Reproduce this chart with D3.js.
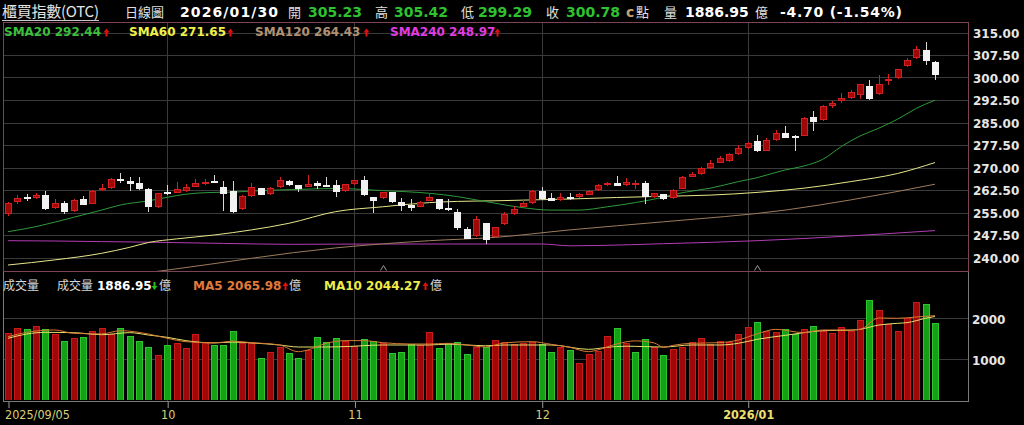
<!DOCTYPE html>
<html><head><meta charset="utf-8">
<script src="https://cdn.jsdelivr.net/npm/d3@7"></script>
<style>
html,body{margin:0;padding:0;background:#000;overflow:hidden}
svg{display:block}
</style></head><body>
<svg id="c" width="1024" height="425"></svg>
<script>
// ---------------- DATA ----------------
const openP = [254.5,258.4,260.05,259.7,260.9,256.6,258.1,255.6,259.4,258.0,
262.5,263.3,266.3,265.4,264.7,262.9,256.7,261.8,261.6,262.3,
263.6,264.5,265.5,263.6,262.2,256.1,260.5,263.1,261.2,263.4,
265.6,264.1,263.6,264.7,264.3,264.2,262.2,264.5,265.8,260.05,
259.7,261.8,258.6,257.4,256.9,258.9,259.4,256.4,255.3,249.4,
247.2,251.4,246.7,251.2,254.5,256.7,258.1,262.1,259.7,259.2,
260.3,260.05,261.0,262.5,264.3,264.9,264.1,264.7,264.9,260.3,
261.1,259.7,262.9,266.9,267.8,269.8,271.6,272.3,274.5,276.5,
278.8,275.6,279.2,281.6,280.6,280.6,286.7,285.8,290.5,292.0,
293.1,294.2,297.2,294.4,298.9,299.7,303.8,306.4,309.2,305.23];
const highP = [258.5,260.8,261.1,261.4,262.2,259.4,259.0,259.5,260.6,262.6,
264.4,266.4,268.1,266.7,266.7,263.1,261.6,264.1,265.3,264.5,
266.1,266.1,267.5,265.6,265.6,260.7,264.7,263.3,263.6,266.7,
266.0,264.3,267.5,265.6,266.9,265.8,264.6,266.0,267.3,260.3,
262.0,262.0,260.0,259.4,258.8,261.1,259.6,259.4,256.2,250.3,
253.8,251.6,250.3,255.3,257.2,259.2,262.5,263.4,261.4,261.6,
261.6,261.6,262.6,264.5,265.3,267.2,266.4,265.8,265.6,261.6,
261.3,263.0,267.1,268.6,270.3,272.5,273.8,275.0,277.5,278.4,
280.8,279.8,282.5,283.9,280.8,286.9,289.0,290.8,292.2,294.9,
295.8,298.0,299.2,300.8,301.2,303.0,306.4,310.5,311.7,305.42];
const lowP = [254.0,258.0,258.8,259.5,256.0,256.3,254.5,255.3,257.4,257.8,
262.3,263.0,265.0,262.3,262.5,255.3,256.5,261.0,261.4,262.0,
263.4,264.3,264.7,255.6,255.0,255.9,260.3,260.8,261.0,263.2,
264.0,261.8,263.4,263.0,263.6,260.3,262.0,264.3,260.6,254.7,
259.5,258.3,255.6,255.5,256.7,258.7,255.9,255.6,249.2,246.1,
247.0,244.5,246.5,251.0,254.3,256.5,257.9,259.2,258.7,259.0,
259.2,259.9,260.8,262.3,264.0,263.7,263.9,263.0,257.8,260.0,
259.2,259.5,262.7,266.7,267.6,269.6,271.4,271.9,274.3,276.3,
275.2,275.4,279.0,279.7,275.5,280.4,282.3,285.6,289.7,291.6,
292.9,292.7,292.6,294.2,297.5,299.5,303.6,306.2,304.2,299.29];
const closeP = [258.1,259.7,259.4,260.9,256.3,258.3,255.3,259.2,257.6,262.3,
263.3,266.1,265.4,264.5,262.7,256.7,261.4,261.2,262.9,263.6,
264.9,265.2,264.9,261.2,255.3,260.5,263.4,261.0,263.1,265.8,
264.3,262.7,264.5,263.8,263.7,262.0,264.4,265.8,260.8,258.9,
261.8,258.6,257.2,256.6,258.6,260.3,256.1,255.8,249.7,246.3,
252.7,245.8,250.1,254.5,256.1,258.3,262.3,259.4,258.9,260.3,
259.7,261.1,262.3,264.2,264.7,263.9,265.3,264.9,260.05,261.4,
259.4,262.5,266.9,267.8,269.9,271.6,273.1,274.4,276.4,278.1,
275.4,279.2,281.4,279.9,279.7,286.6,285.1,290.5,291.4,293.1,
295.3,297.8,292.8,297.8,299.4,302.7,305.8,309.4,305.48,300.78];
const prevClose0 = 254.0;
const volume = [1634,1771,1739,1804,1739,1617,1454,1520,1536,1690,
1771,1617,1771,1576,1454,1300,1113,1357,1406,1284,
1617,1414,1349,1349,1690,1390,1400,1040,1178,1292,
1161,1040,1227,1551,1422,1527,1439,1324,1495,1454,
1406,1161,1178,1373,1349,1674,1268,1390,1414,1129,
1300,1300,1471,1430,1373,1406,1430,1365,1186,1300,
1227,902,1122,1202,1568,1771,1406,1170,1487,1292,
1105,1259,1292,1430,1527,1373,1454,1430,1610,1795,
1902,1690,1674,1731,1610,1731,1812,1698,1649,1795,
1690,1959,2446,2202,1870,1698,2007,2405,2358,1886.95];

// moving averages: [bar index, value]
const sma20 = [[0,248.6],[3,250.3],[7,253.4],[10,255.8],[12,257.5],[15,258.9],[17,260.05],[19,261.1],[22,261.7],[24,261.8],[27,262.3],[31,262.7],[35,263.0],[40,262.3],[45,261.4],[48,260.3],[50,259.2],[52,258.1],[55,256.6],[58,255.8],[61,255.8],[64,256.9],[67,258.3],[70,260.1],[72,261.6],[75,263.1],[78,265.3],[80,266.6],[83,269.2],[85,270.5],[87,272.7],[89,277.0],[91,280.5],[93,283.1],[95,286.1],[97,289.7],[99,292.44]];
const sma60 = [[0,237.5],[5,239.2],[10,241.4],[13,243.4],[15,245.0],[18,246.2],[22,247.5],[26,249.2],[30,251.4],[35,255.3],[40,256.9],[45,258.3],[48,258.7],[52,258.9],[56,259.2],[60,259.5],[65,260.0],[70,260.4],[75,260.8],[80,261.7],[85,263.1],[90,265.3],[95,268.0],[99,271.65]];
const sma120 = [[0,229.0],[17,235.8],[35,243.2],[45,245.6],[52,246.7],[60,249.2],[70,251.9],[83,255.8],[90,259.2],[99,264.43]];
const sma240 = [[0,245.6],[5,245.5],[10,245.3],[15,245.1],[23,244.7],[30,244.4],[40,244.5],[50,244.5],[57,244.5],[60,243.9],[63,244.0],[70,244.6],[80,245.6],[90,247.2],[99,248.97]];
const volMa5 = [[0,1551],[2,1658],[5,1715],[7,1633],[10,1620],[12,1698],[15,1617],[17,1512],[19,1430],[22,1400],[24,1440],[26,1406],[29,1349],[31,1186],[32,1227],[34,1390],[36,1455],[38,1455],[40,1406],[43,1373],[45,1373],[47,1390],[49,1349],[51,1300],[53,1400],[56,1430],[58,1365],[60,1292],[62,1186],[63,1230],[65,1373],[67,1450],[69,1400],[70,1292],[71,1340],[73,1390],[76,1406],[78,1471],[80,1620],[82,1731],[85,1650],[87,1715],[90,1715],[91,1731],[93,2007],[95,2000],[97,2031],[99,2065.98]];
const volMa10 = [[0,1512],[2,1617],[4,1658],[7,1650],[10,1600],[13,1650],[15,1592],[17,1536],[19,1455],[22,1400],[24,1420],[26,1400],[29,1349],[31,1300],[34,1300],[36,1310],[40,1349],[43,1349],[45,1349],[47,1370],[49,1349],[51,1330],[53,1349],[58,1349],[62,1243],[64,1292],[66,1320],[68,1310],[70,1300],[73,1349],[76,1349],[78,1390],[80,1487],[83,1584],[85,1650],[87,1698],[90,1710],[91,1731],[93,1836],[95,1877],[96,1894],[98,2000],[99,2044.27]];

const priceTicks = [240,247.5,255,262.5,270,277.5,285,292.5,300,307.5,315];
const volTicks = [1000,2000];
const tickIdx = [0,17,37,57,79];
const tickLabels = ["2025/09/05","10","11","12","2026/01"];
const markerIdx = [40,80];
const lastDate = "2026/01/30";

// ---------------- DRAW ----------------
const svg = d3.select("#c");
const M = {l:3, r:968, t:22, b:271};
const V = {t:271, b:401};
const x = d3.scaleLinear().domain([0, 99]).range([8, 935]);
const y = d3.scaleLinear().domain([240, 315]).range([257.5, 32.5]);
const yv = d3.scaleLinear().domain([0, 2000]).range([400.3, 318.3]);
const NUM = "'DejaVu Sans',Verdana,sans-serif";
const CJK = "'Noto Sans CJK TC','Noto Sans CJK SC',sans-serif";

svg.append("rect").attr("width",1024).attr("height",425).attr("fill","#000");
const defs = svg.append("defs");
defs.append("clipPath").attr("id","cm").append("rect").attr("x",M.l).attr("y",M.t).attr("width",M.r-M.l).attr("height",M.b-M.t);
defs.append("clipPath").attr("id","cv").append("rect").attr("x",M.l).attr("y",V.t).attr("width",M.r-M.l).attr("height",V.b-V.t);

const grid = svg.append("g").attr("stroke","#3a3a3a").attr("stroke-width",1).attr("shape-rendering","crispEdges");
priceTicks.forEach(t=>{
  const yy = Math.round(y(t))+0.5;
  grid.append("line").attr("x1",M.l).attr("x2",M.r).attr("y1",yy).attr("y2",yy);
});
volTicks.forEach(t=>{
  const yy = Math.round(yv(t))+0.5;
  grid.append("line").attr("x1",M.l).attr("x2",M.r).attr("y1",yy).attr("y2",yy);
});
tickIdx.slice(1).forEach(i=>{
  const xx = Math.round(x(i))+0.5;
  grid.append("line").attr("x1",xx).attr("x2",xx).attr("y1",M.t).attr("y2",M.b);
  grid.append("line").attr("x1",xx).attr("x2",xx).attr("y1",V.t).attr("y2",V.b);
});

// moving average lines (main)
const lineP = d3.line().x(d=>x(d[0])).y(d=>y(d[1])).curve(d3.curveMonotoneX);
const gm = svg.append("g").attr("clip-path","url(#cm)");
[[sma240,"#b43cb4"],[sma120,"#9c7c5c"],[sma60,"#e6e68a"],[sma20,"#2f9a3a"]].forEach(([d,c])=>{
  gm.append("path").attr("d",lineP(d)).attr("fill","none").attr("stroke",c).attr("stroke-width",1);
});

// candles
const idx = d3.range(openP.length);
const cg = gm.append("g").attr("shape-rendering","crispEdges");
idx.forEach(i=>{
  const cx = Math.round(x(i));
  const up = closeP[i] >= openP[i];
  const wick = up ? "#d42020" : "#d8d8d8";
  cg.append("rect").attr("x",cx).attr("width",1)
    .attr("y",Math.round(y(highP[i]))).attr("height",Math.max(1,Math.round(y(lowP[i]))-Math.round(y(highP[i]))))
    .attr("fill",wick);
  const yt = Math.round(y(Math.max(openP[i],closeP[i])));
  const yb = Math.round(y(Math.min(openP[i],closeP[i])));
  const h = Math.max(2, yb-yt);
  if(up){
    cg.append("rect").attr("x",cx-3).attr("y",yt).attr("width",7).attr("height",h).attr("fill","#d42020");
    if(h>2) cg.append("rect").attr("x",cx-2).attr("y",yt+1).attr("width",5).attr("height",h-2).attr("fill","#a00808");
  } else {
    cg.append("rect").attr("x",cx-3).attr("y",yt).attr("width",7).attr("height",h).attr("fill","#f2f2f2");
  }
});

// markers
markerIdx.forEach(i=>{
  const cx = Math.round(x(i))+0.5;
  svg.append("path").attr("d",`M${cx-3},270.5 L${cx},265.5 L${cx+3},270.5`).attr("fill","none").attr("stroke","#9a9a9a").attr("stroke-width",1);
});

// volume bars
const vg = svg.append("g").attr("clip-path","url(#cv)").attr("shape-rendering","crispEdges");
idx.forEach(i=>{
  const cx = Math.round(x(i));
  const prev = i ? closeP[i-1] : prevClose0;
  const up = closeP[i] >= prev;
  const yt = Math.round(yv(volume[i]));
  const yb = Math.round(yv(0));
  vg.append("rect").attr("x",cx-3).attr("y",yt).attr("width",7).attr("height",yb-yt).attr("fill",up?"#c81c1c":"#2ec62e");
  vg.append("rect").attr("x",cx-2).attr("y",yt+1).attr("width",5).attr("height",yb-yt-1).attr("fill",up?"#a00808":"#16a016");
});
const lineV = d3.line().x(d=>x(d[0])).y(d=>yv(d[1])).curve(d3.curveMonotoneX);
const vl = svg.append("g").attr("clip-path","url(#cv)");
vl.append("path").attr("d",lineV(volMa10)).attr("fill","none").attr("stroke","#e8df6a").attr("stroke-width",1);
vl.append("path").attr("d",lineV(volMa5)).attr("fill","none").attr("stroke","#d67a34").attr("stroke-width",1);

// frames
svg.append("rect").attr("x",M.l+0.5).attr("y",M.t+0.5).attr("width",M.r-M.l).attr("height",M.b-M.t)
  .attr("fill","none").attr("stroke","#7c4456").attr("shape-rendering","crispEdges");
const fr = svg.append("g").attr("stroke","#7a7a7a").attr("shape-rendering","crispEdges");
fr.append("line").attr("x1",M.l+0.5).attr("x2",M.l+0.5).attr("y1",V.t+1).attr("y2",V.b+0.5);
fr.append("line").attr("x1",M.r+0.5).attr("x2",M.r+0.5).attr("y1",V.t+1).attr("y2",V.b+0.5);
fr.append("line").attr("x1",M.l).attr("x2",M.r+1).attr("y1",V.b+0.5).attr("y2",V.b+0.5);

// axes
const ay = svg.append("g").attr("transform",`translate(${M.r+1},0)`)
  .call(d3.axisRight(y).tickValues(priceTicks).tickFormat(d3.format(".2f")).tickSize(0).tickPadding(4));
ay.select(".domain").remove();
ay.selectAll("text").attr("font-family",NUM).attr("font-weight","bold").attr("font-size",12).attr("fill","#e6e6e6").attr("dy","0.4em");
const av = svg.append("g").attr("transform",`translate(${M.r+1},0)`)
  .call(d3.axisRight(yv).tickValues(volTicks).tickFormat(d3.format("d")).tickSize(0).tickPadding(3));
av.select(".domain").remove();
av.selectAll("text").attr("font-family",NUM).attr("font-weight","bold").attr("font-size",12).attr("fill","#e6e6e6").attr("dy","0.4em");

const ax = svg.append("g").attr("transform",`translate(0.5,${V.b+1})`)
  .call(d3.axisBottom(x).tickValues(tickIdx).tickFormat((d,k)=>tickLabels[k]).tickSize(6).tickPadding(2));
ax.select(".domain").remove();
ax.selectAll("line").attr("stroke","#9a9a9a");
ax.selectAll("text").attr("font-family","'DejaVu Sans Condensed','DejaVu Sans',sans-serif").attr("font-stretch","condensed")
  .attr("font-size",12.5).attr("fill","#d8cf78").attr("dy","0.72em")
  .each(function(d,k){
    if(k===0) d3.select(this).attr("text-anchor","start").attr("x",-4);
    if(k===tickLabels.length-1) d3.select(this).attr("font-weight","bold").attr("fill","#eee070");
  });

// ---------------- TEXT ----------------
function txt(g,s,xx,yy,o){
  const t = g.append("text").attr("x",xx).attr("y",yy).text(s)
    .attr("font-family",o.f||NUM).attr("font-size",o.s||14).attr("font-weight",o.w||"normal").attr("fill",o.c||"#e0e0e0");
  if(o.tl) t.attr("textLength",o.tl).attr("lengthAdjust","spacing");
  return t;
}
function arrow(g,xx,yt,up,c){
  const p = up
    ? `M${xx+2.5},${yt} L${xx+5.5},${yt+4} L${xx+3.5},${yt+4} L${xx+3.5},${yt+8} L${xx+1.5},${yt+8} L${xx+1.5},${yt+4} L${xx-0.5},${yt+4} Z`
    : `M${xx+2.5},${yt+8} L${xx+5.5},${yt+4} L${xx+3.5},${yt+4} L${xx+3.5},${yt} L${xx+1.5},${yt} L${xx+1.5},${yt+4} L${xx-0.5},${yt+4} Z`;
  g.append("path").attr("d",p).attr("fill",c);
}
const f2 = v => d3.format(".2f")(v).replace("\u2212","-");
const last = openP.length-1;
const chg = closeP[last]-closeP[last-1];
const hd = svg.append("g");
const G = "#2fc22f";
txt(hd,"櫃買指數(OTC)",2,17,{f:CJK,s:15,c:"#e4e4e4",tl:97});
hd.append("line").attr("x1",2).attr("x2",99).attr("y1",20.5).attr("y2",20.5).attr("stroke","#c8c8c8");
txt(hd,"日線圖",125,17,{f:CJK,s:13});
txt(hd,lastDate,180,17,{w:"bold",c:"#ffffff",tl:98});
txt(hd,"開",288,17,{f:CJK,s:13});
txt(hd,f2(openP[last]),308,17,{w:"bold",c:G});
txt(hd,"高",375,17,{f:CJK,s:13});
txt(hd,f2(highP[last]),394,17,{w:"bold",c:G});
txt(hd,"低",461,17,{f:CJK,s:13});
txt(hd,f2(lowP[last]),478,17,{w:"bold",c:G});
txt(hd,"收",546,17,{f:CJK,s:13});
txt(hd,f2(closeP[last]),566,17,{w:"bold",c:G});
txt(hd,"c",626,17,{w:"bold",c:"#c8a070"});
txt(hd,"點",636,17,{f:CJK,s:13});
txt(hd,"量",664,17,{f:CJK,s:13});
txt(hd,f2(volume[last]),685,17,{w:"bold",c:"#ffffff"});
txt(hd,"億",755,17,{f:CJK,s:13});
txt(hd,`${f2(chg)} (${f2(chg/closeP[last-1]*100)}%)`,780,17,{w:"bold",c:"#ffffff",tl:122});

// MA legend
const lg = svg.append("g");
const RED = "#e01010";
[["SMA20",sma20,"#3cbf3c",4,104],["SMA60",sma60,"#f0f048",129,228],["SMA120",sma120,"#b09272",255,364],["SMA240",sma240,"#e03ce0",390,495]]
.forEach(([n,d,c,xx,ax2])=>{
  txt(lg,`${n} ${f2(d[d.length-1][1])}`,xx,36,{w:"bold",s:12,c:c});
  arrow(lg,ax2,28.5,true,RED);
});

// volume legend
const vlg = svg.append("g");
txt(vlg,"成交量",3,290,{f:CJK,s:12,c:"#d8d8d8"});
txt(vlg,"成交量",57,290,{f:CJK,s:12,c:"#d8d8d8"});
txt(vlg,f2(volume[last]),97,290,{w:"bold",s:12,c:"#ffffff"});
arrow(vlg,152,282,false,"#20c020");
txt(vlg,"億",159,290,{f:CJK,s:12,c:"#d8d8d8"});
txt(vlg,`MA5 ${f2(volMa5[volMa5.length-1][1])}`,193,290,{w:"bold",s:12,c:"#e07a3a"});
arrow(vlg,283,282,true,RED);
txt(vlg,"億",289,290,{f:CJK,s:12,c:"#d8d8d8"});
txt(vlg,`MA10 ${f2(volMa10[volMa10.length-1][1])}`,324,290,{w:"bold",s:12,c:"#ecec4a"});
arrow(vlg,423,282,true,RED);
txt(vlg,"億",430,290,{f:CJK,s:12,c:"#d8d8d8"});
</script>
</body></html>
